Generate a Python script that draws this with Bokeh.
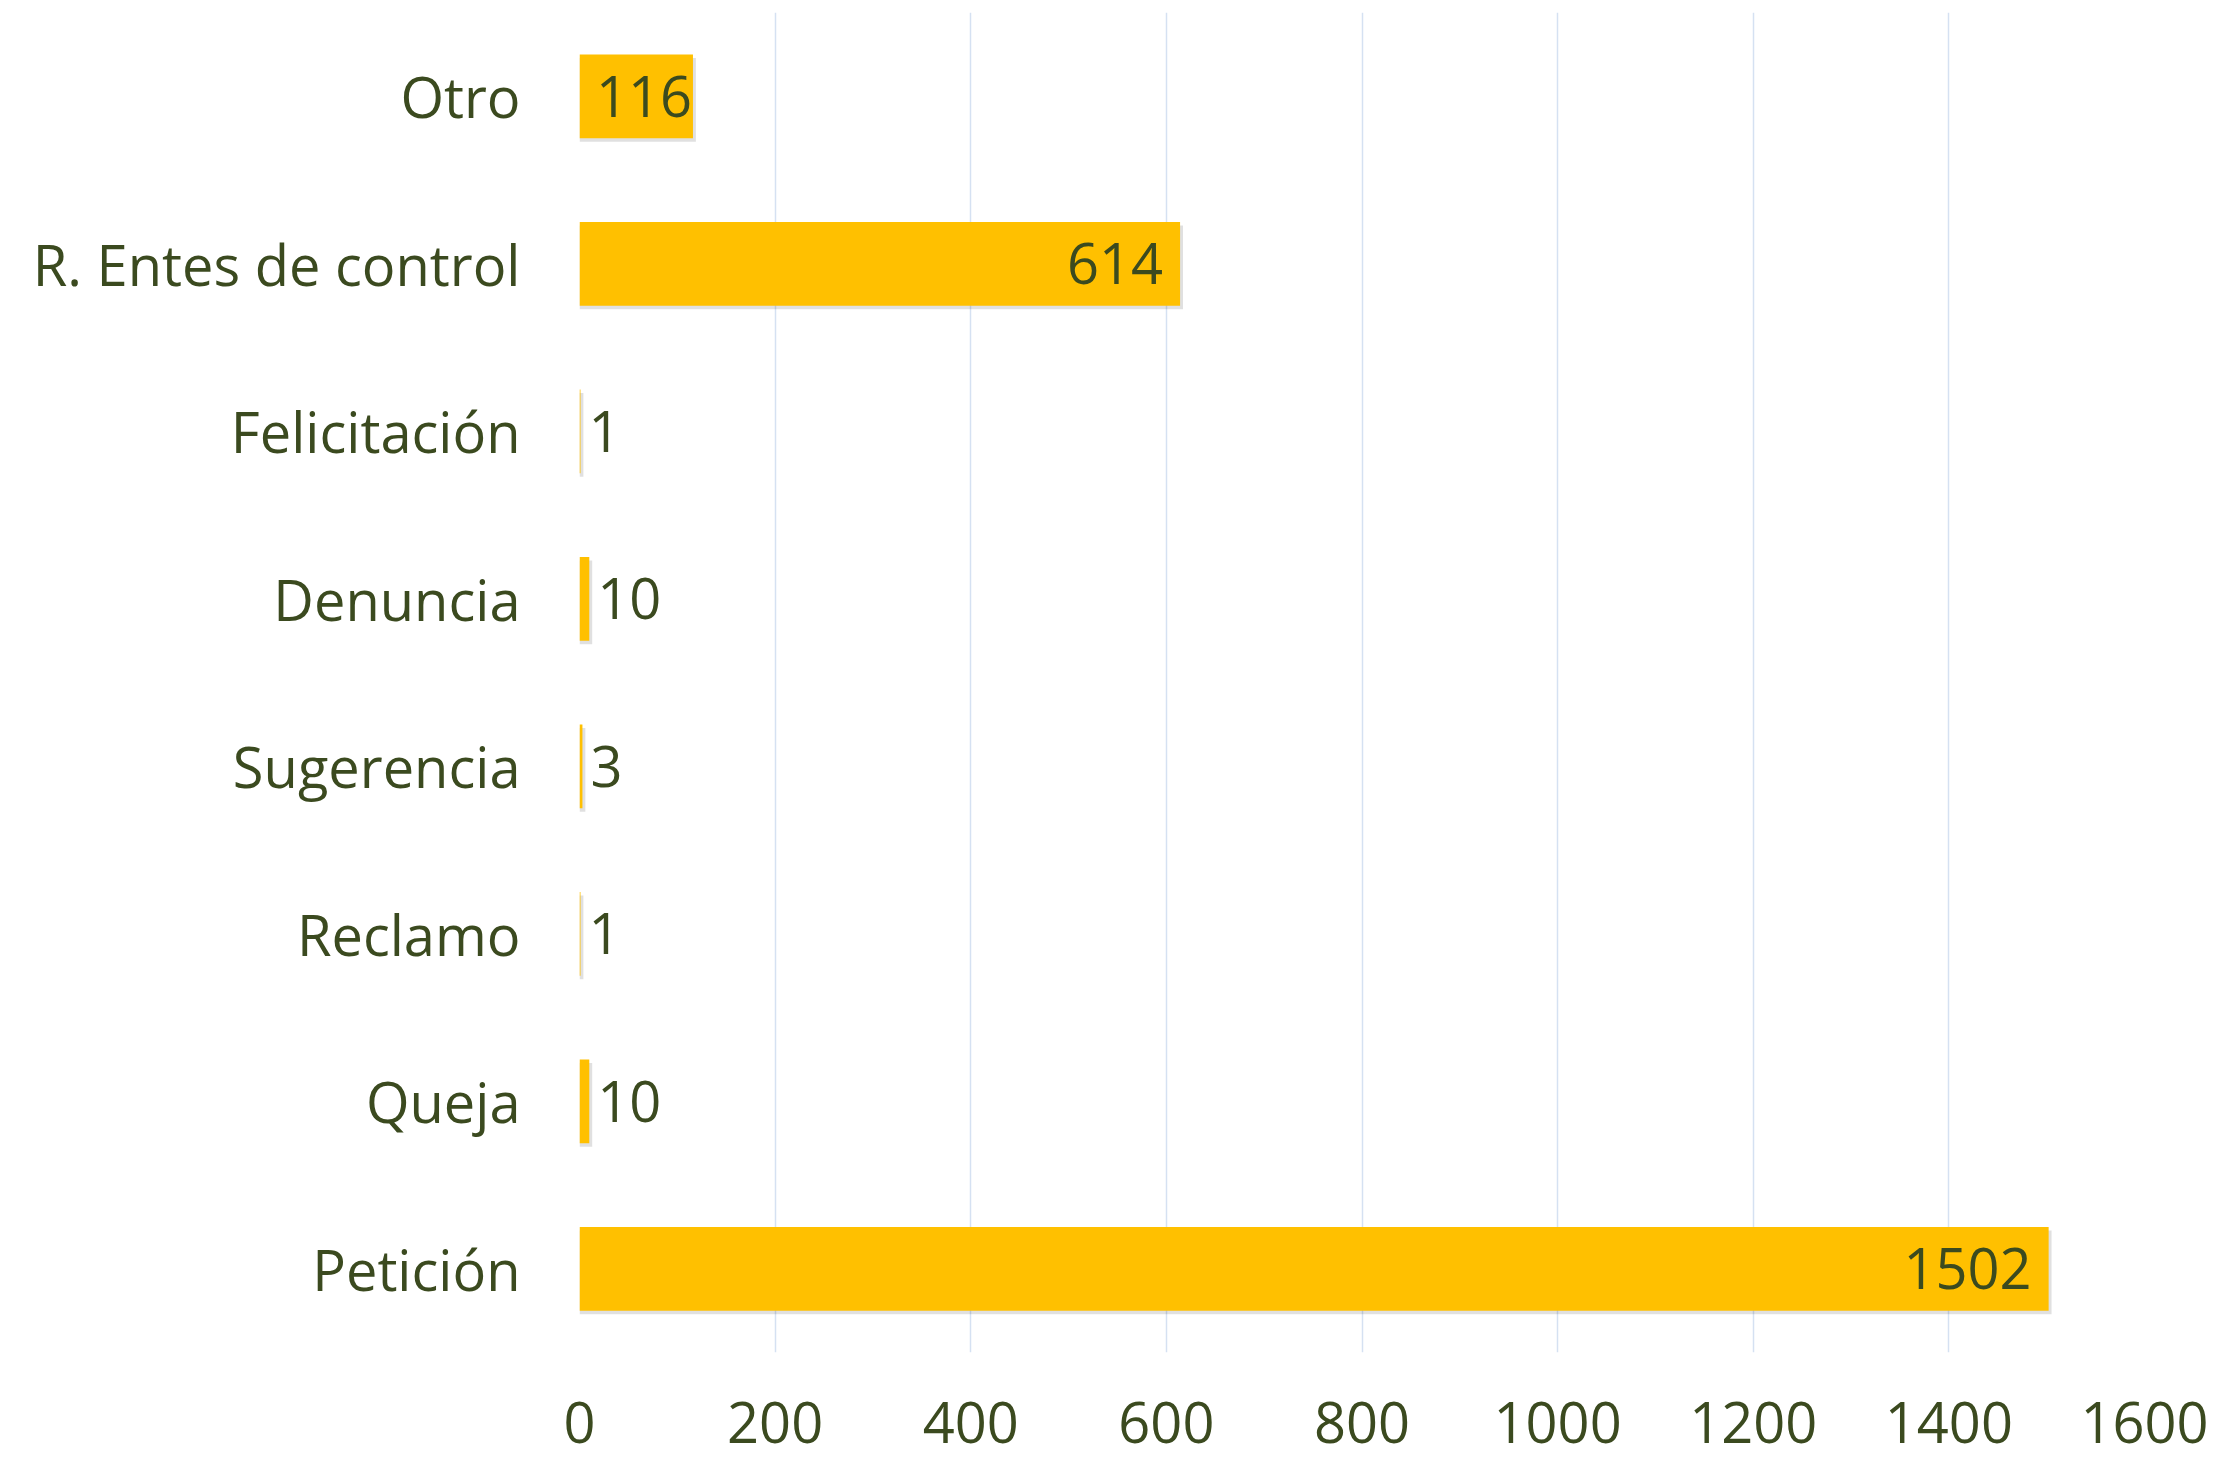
from bokeh.plotting import figure
from bokeh.models import ColumnDataSource, Range1d, FactorRange, FixedTicker
from bokeh.transform import dodge
from bokeh.core.properties import value
from bokeh.embed import file_html
from bokeh.resources import INLINE

# Data (top to bottom as shown)
categories = ["Otro", "R. Entes de control", "Felicitación", "Denuncia",
              "Sugerencia", "Reclamo", "Queja", "Petición"]
counts = [116, 614, 1, 10, 3, 1, 10, 1502]
x_ticks = [0, 200, 400, 600, 800, 1000, 1200, 1400, 1600]

FONT = "Open Sans"
TEXT_COLOR = "#3B4A1F"
BAR_COLOR = "#FFC000"
FS = "56px"

factors = list(reversed(categories))

p = figure(
    y_range=FactorRange(factors=factors, range_padding=0),
    x_range=Range1d(0, 1600),
    width=2216, height=1463,
    min_border_left=579, min_border_top=12, min_border_right=72, min_border_bottom=111,
    output_backend="svg", toolbar_location=None,
    background_fill_color="white", border_fill_color="white",
)
p.outline_line_color = None

# labels placement derived from values
align, xoff = [], []
for v in counts:
    if v > 300:
        align.append("right"); xoff.append(-17)
    elif v > 60:
        align.append("right"); xoff.append(-1)
    else:
        align.append("left"); xoff.append(8)

src = ColumnDataSource(dict(cat=categories, val=counts,
                            shadow=[v + 3 for v in counts],
                            lbl=[str(v) for v in counts],
                            align=align, xoff=xoff))

# subtle shadow
p.hbar(y=dodge("cat", -0.022, range=p.y_range), left=0, right="shadow", height=0.5,
       source=src, fill_color="#000000", fill_alpha=0.12, line_color=None)
p.hbar(y="cat", left=0, right="val", height=0.5, source=src,
       fill_color=BAR_COLOR, line_color=None)

p.text(x="val", y="cat", text="lbl", source=src, text_align="align",
       x_offset="xoff", text_baseline="middle", text_font=value(FONT),
       text_font_size=FS, text_color=TEXT_COLOR)

# grid
p.ygrid.grid_line_color = None
p.xgrid.grid_line_color = "#D5E1F2"
p.xgrid.grid_line_width = 1.5
p.xgrid.ticker = FixedTicker(ticks=x_ticks)

# x axis
p.xaxis.ticker = FixedTicker(ticks=x_ticks)
p.xaxis.axis_line_color = None
p.xaxis.major_tick_line_color = None
p.xaxis.minor_tick_line_color = None
p.xaxis.major_label_text_font = FONT
p.xaxis.major_label_text_font_size = FS
p.xaxis.major_label_text_color = TEXT_COLOR
p.xaxis.major_label_standoff = 43

# y axis
p.yaxis.axis_line_color = None
p.yaxis.major_tick_line_color = None
p.yaxis.major_label_text_font = FONT
p.yaxis.major_label_text_font_size = FS
p.yaxis.major_label_text_color = TEXT_COLOR
p.yaxis.major_label_standoff = 53

open("out.html", "w").write(file_html(p, INLINE))
